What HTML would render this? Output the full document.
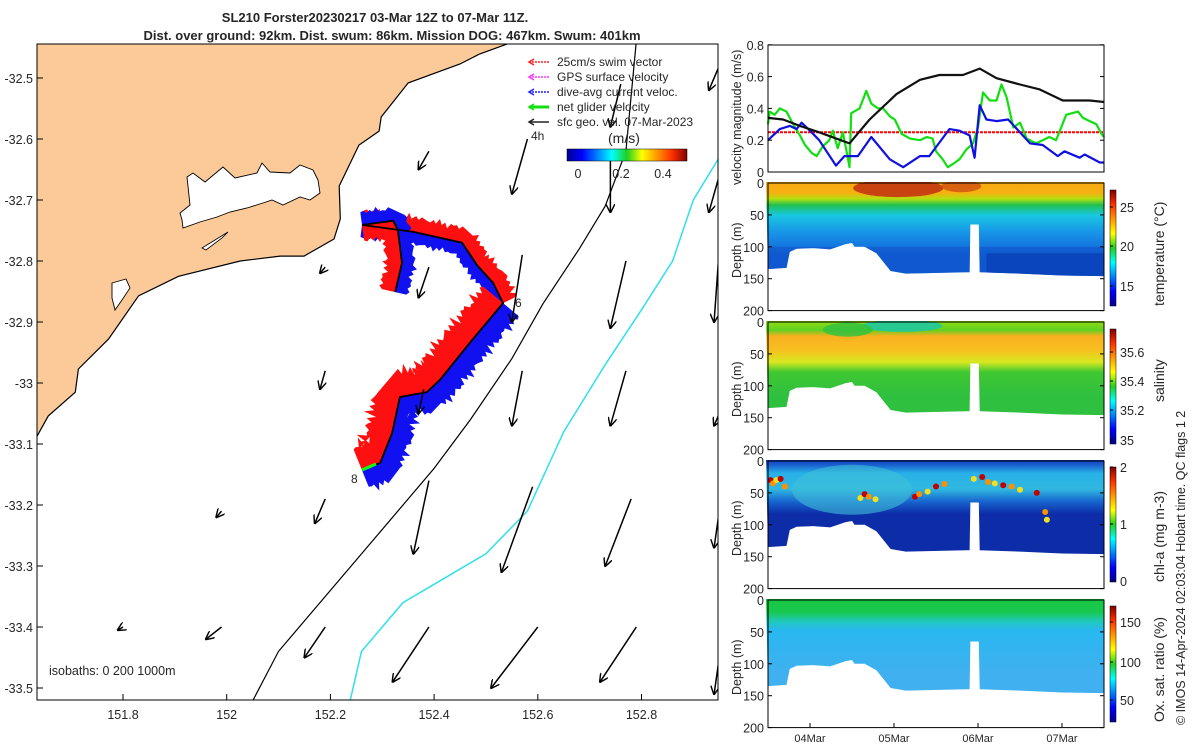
<!DOCTYPE html>
<html><head><meta charset="utf-8"><style>
html,body{margin:0;padding:0;background:#fff}
svg{display:block;font-family:"Liberation Sans","DejaVu Sans",sans-serif}
text{fill:#262626}
</style></head><body>
<svg id="fig" width="1200" height="750" viewBox="0 0 1200 750" xmlns="http://www.w3.org/2000/svg">
<defs>
<linearGradient id="jetV" x1="0" y1="1" x2="0" y2="0">
<stop offset="0" stop-color="#00008f"/><stop offset="0.125" stop-color="#0000ff"/><stop offset="0.375" stop-color="#00ffff"/><stop offset="0.5" stop-color="#20d020"/><stop offset="0.625" stop-color="#ffff00"/><stop offset="0.875" stop-color="#ff3000"/><stop offset="1" stop-color="#800000"/></linearGradient>
<linearGradient id="jetH" x1="0" y1="0" x2="1" y2="0">
<stop offset="0" stop-color="#00008f"/><stop offset="0.125" stop-color="#0000ff"/><stop offset="0.375" stop-color="#00ffff"/><stop offset="0.5" stop-color="#20d020"/><stop offset="0.625" stop-color="#ffff00"/><stop offset="0.875" stop-color="#ff3000"/><stop offset="1" stop-color="#800000"/></linearGradient>
<linearGradient id="gT" x1="0" y1="0" x2="0" y2="1">
<stop offset="0" stop-color="#f8a810"/><stop offset="0.12" stop-color="#f6b010"/><stop offset="0.18" stop-color="#b0e010"/><stop offset="0.24" stop-color="#20c050"/><stop offset="0.34" stop-color="#18c8e0"/><stop offset="0.5" stop-color="#1898e8"/><stop offset="0.75" stop-color="#1060d8"/></linearGradient>
<linearGradient id="gS" x1="0" y1="0" x2="0" y2="1">
<stop offset="0" stop-color="#98e010"/><stop offset="0.1" stop-color="#60d020"/><stop offset="0.16" stop-color="#f8b020"/><stop offset="0.3" stop-color="#f8c020"/><stop offset="0.42" stop-color="#d8e820"/><stop offset="0.52" stop-color="#40c830"/><stop offset="0.75" stop-color="#30c040"/></linearGradient>
<linearGradient id="gC" x1="0" y1="0" x2="0" y2="1">
<stop offset="0" stop-color="#1030b8"/><stop offset="0.06" stop-color="#1a60d0"/><stop offset="0.14" stop-color="#28b0e8"/><stop offset="0.3" stop-color="#30b8e0"/><stop offset="0.42" stop-color="#1868d0"/><stop offset="0.55" stop-color="#0c2ca8"/><stop offset="1" stop-color="#0c2ca8"/></linearGradient>
<linearGradient id="gO" x1="0" y1="0" x2="0" y2="1">
<stop offset="0" stop-color="#18c840"/><stop offset="0.14" stop-color="#18c850"/><stop offset="0.24" stop-color="#20c8c0"/><stop offset="0.32" stop-color="#28b8f0"/><stop offset="0.75" stop-color="#40b0f0"/></linearGradient>
<marker id="ah" viewBox="0 0 10 10" refX="9" refY="5" markerWidth="9" markerHeight="9" orient="auto" markerUnits="userSpaceOnUse"><path d="M0,0 L10,5 L0,10" fill="none" stroke="#000" stroke-width="1.6"/></marker>
<clipPath id="mapclip"><rect x="37" y="44" width="681" height="656"/></clipPath>
</defs>

<text x="375" y="22" font-size="13" font-weight="bold" text-anchor="middle">SL210 Forster20230217 03-Mar 12Z to 07-Mar 11Z.</text>
<text x="392" y="40" font-size="13" font-weight="bold" text-anchor="middle">Dist. over ground: 92km. Dist. swum: 86km. Mission DOG: 467km. Swum: 401km</text>

<g id="map"></g>
<g id="vel"></g>
<g id="sections"></g>

<text transform="translate(1185,725) rotate(-90)" font-size="12.5">© IMOS 14-Apr-2024 02:03:04 Hobart time. QC flags 1  2</text>
</svg>
<script>
const NS="http://www.w3.org/2000/svg";
function mk(tag,attrs,parent){const e=document.createElementNS(NS,tag);for(const k in attrs)e.setAttribute(k,attrs[k]);(parent||document.getElementById('fig')).appendChild(e);return e;}
function txt(s,attrs,parent){const e=mk('text',attrs,parent);e.textContent=s;return e;}

/* ---------- MAP DATA ---------- */
const lonTicks=[151.8,152,152.2,152.4,152.6,152.8];
const latTicks=[-32.5,-32.6,-32.7,-32.8,-32.9,-33,-33.1,-33.2,-33.3,-33.4,-33.5];
const coastLon=[152.545,152.487,152.450,152.350,152.298,152.294,152.255,152.217,152.219,152.207,152.149,152.103,152.026,151.907,151.830,151.772,151.714,151.708,151.656,151.631,151.617,151.611];
const coastLat=[-32.443,-32.461,-32.477,-32.508,-32.564,-32.587,-32.610,-32.677,-32.731,-32.764,-32.792,-32.792,-32.800,-32.825,-32.857,-32.928,-32.977,-33.015,-33.054,-33.092,-33.169,-33.190];
const iso200Lon=[152.79,152.77,152.73,152.68,152.61,152.55,152.47,152.40,152.29,152.18,152.10,152.02];
const iso200Lat=[-32.44,-32.62,-32.71,-32.78,-32.87,-32.96,-33.06,-33.14,-33.25,-33.36,-33.44,-33.57];
const iso1000Lon=[152.95,152.90,152.86,152.80,152.73,152.65,152.58,152.50,152.42,152.34,152.26,152.23];
const iso1000Lat=[-32.63,-32.70,-32.80,-32.88,-32.97,-33.08,-33.21,-33.28,-33.32,-33.36,-33.44,-33.55];
const trackLon=[152.261,152.359,152.454,152.483,152.514,152.533,152.469,152.411,152.386,152.334,152.319,152.296,152.261];
const trackLat=[-32.741,-32.752,-32.770,-32.807,-32.836,-32.869,-32.934,-32.995,-33.015,-33.023,-33.082,-33.131,-33.143];
const armLon=[152.261,152.321,152.330,152.338,152.325];
const armLat=[-32.741,-32.734,-32.749,-32.803,-32.851];
const arrowLon0=[152.39,152.58,152.76,152.74,152.95,152.95,152.19,152.39,152.57,152.77,152.95,152.19,152.38,152.57,152.77,152.95,151.99,152.19,152.39,152.59,152.78,152.95,151.80,151.99,152.19,152.39,152.60,152.79,152.95];
const arrowLat0=[-32.62,-32.60,-32.51,-32.62,-32.48,-32.66,-32.81,-32.81,-32.79,-32.80,-32.78,-32.98,-33.01,-32.98,-32.98,-33.05,-33.21,-33.19,-33.16,-33.17,-33.19,-33.21,-33.40,-33.40,-33.40,-33.40,-33.40,-33.40,-33.45];
const arrowLon1=[152.37,152.55,152.74,152.74,152.93,152.93,152.18,152.37,152.55,152.74,152.94,152.18,152.37,152.55,152.74,152.94,151.98,152.17,152.36,152.53,152.73,152.94,151.79,151.96,152.15,152.32,152.51,152.72,152.94];
const arrowLat1=[-32.65,-32.69,-32.58,-32.72,-32.52,-32.72,-32.82,-32.86,-32.90,-32.91,-32.90,-33.01,-33.05,-33.07,-33.07,-33.07,-33.22,-33.23,-33.28,-33.31,-33.30,-33.27,-33.405,-33.42,-33.45,-33.49,-33.50,-33.49,-33.51];

const mx=lon=>123+(lon-151.8)*518.5;
const my=lat=>78+(-32.5-lat)*610;
const map=document.getElementById('map');
mk('rect',{x:37,y:44,width:681,height:656,fill:'#fff'},map);
const gm=mk('g',{'clip-path':'url(#mapclip)'},map);
let cp='M37,40 L'+mx(coastLon[0]).toFixed(1)+',40 ';coastLon.forEach((l,i)=>cp+='L'+mx(l).toFixed(1)+','+my(coastLat[i]).toFixed(1)+' ');cp+='L30,520 L30,40 Z';
const land=mk('path',{d:cp,fill:'#fbca98',stroke:'#000','stroke-width':1.2},gm);

mk('polygon',{points:'187,177 193,173 205,182 223,167 235,178 257,173 262,163 270,172 290,173 300,165 313,170 318,180 320,193 310,200 300,197 283,205 272,200 263,203 247,208 230,212 217,217 200,222 183,228 182,220 180,213 190,205',fill:'#fff',stroke:'#000','stroke-width':0.9},gm);
mk('polygon',{points:'112,283 126,279 130,288 122,300 115,310 112,298',fill:'#fff',stroke:'#000','stroke-width':0.9},gm);
mk('polygon',{points:'202,248 215,240 228,232 222,238 206,250',fill:'#fff',stroke:'#000','stroke-width':0.8},gm);
function pline(lons,lats){return lons.map((l,i)=>mx(l).toFixed(1)+','+my(lats[i]).toFixed(1)).join(' ');}
const i2=mk('polyline',{points:pline(iso200Lon,iso200Lat),fill:'none',stroke:'#000','stroke-width':1.2},gm);

const i1=mk('polyline',{points:pline(iso1000Lon,iso1000Lat),fill:'none',stroke:'#30e0e8','stroke-width':1.5},gm);

const T=trackLon.map((l,i)=>[mx(l),my(trackLat[i])]);
const A=armLon.map((l,i)=>[mx(l),my(armLat[i])]);
function band(pts,w,side){
  let sub=[];for(let i=0;i<pts.length-1;i++){const p=pts[i],q=pts[i+1];const n=Math.max(2,Math.round(Math.hypot(q[0]-p[0],q[1]-p[1])/3));for(let j=0;j<n;j++){sub.push([p[0]+(q[0]-p[0])*j/n,p[1]+(q[1]-p[1])*j/n,q[0]-p[0],q[1]-p[1]]);}}
  const l=pts[pts.length-1],pl=pts[pts.length-2];sub.push([l[0],l[1],l[0]-pl[0],l[1]-pl[1]]);
  const out=[];sub.forEach((s,i)=>{const L=Math.hypot(s[2],s[3])||1;const nx=s[3]/L*side,ny=-s[2]/L*side;const ww=w*(i%2?1:0.8)*(i%5==0?1.15:(i%7==0?0.85:1));out.push([s[0]+nx*ww,s[1]+ny*ww]);});
  return sub.map(s=>[s[0],s[1]]).concat(out.reverse()).map(p=>p[0].toFixed(1)+','+p[1].toFixed(1)).join(' ');}
const up=T.slice(0,6),lo=T.slice(5);
[[up,16,1,'#ff1010'],[up,13,-1,'#1010f0'],[lo,28,-1,'#ff1010'],[lo,22,1,'#1010f0'],[A,17,-1,'#ff1010'],[A,14,1,'#1010f0']].forEach(b=>{
 const p=mk('polygon',{points:band(b[0],b[1],b[2]),fill:b[3]},gm);
 });
const arm=mk('polyline',{points:A.map(p=>p.join(',')).join(' '),fill:'none',stroke:'#000','stroke-width':1.8},gm);

const tr=mk('polyline',{points:T.map(p=>p.join(',')).join(' '),fill:'none',stroke:'#000','stroke-width':1.8},gm);

mk('line',{x1:362,y1:470,x2:376,y2:464,stroke:'#10ff10','stroke-width':3},gm);
txt('8',{x:351,y:483,'font-size':12},gm);txt('6',{x:515,y:307,'font-size':12},gm);
arrowLon0.forEach((l,i)=>{const a=mk('line',{x1:mx(l),y1:my(arrowLat0[i]),x2:mx(arrowLon1[i]),y2:my(arrowLat1[i]),stroke:'#000','stroke-width':1.5,'marker-end':'url(#ah)'},gm);
});
mk('rect',{x:37,y:44,width:681,height:656,fill:'none',stroke:'#000','stroke-width':1},map);
lonTicks.forEach(l=>{const x=mx(l);mk('line',{x1:x,y1:700,x2:x,y2:694,stroke:'#000'},map);txt(String(l),{x:x,y:719,'font-size':12.5,'text-anchor':'middle'},map);});
latTicks.forEach(l=>{const y=my(l);mk('line',{x1:37,y1:y,x2:43,y2:y,stroke:'#000'},map);txt(String(l),{x:33,y:y+5,'font-size':12.5,'text-anchor':'end'},map);});
txt('isobaths: 0   200   1000m',{x:49,y:675,'font-size':12.5,'xml:space':'preserve'},map);
const lg=mk('g',{},map);
[['#ff2020','25cm/s swim vector'],['#ff30ff','GPS surface velocity'],['#2020ff','dive-avg current veloc.'],['#10e010','net glider velocity'],['#222','sfc geo. vel. 07-Mar-2023']].forEach((e,i)=>{const y=62+i*15;
mk('line',{x1:529,y1:y,x2:549,y2:y,stroke:e[0],'stroke-width':i==3?3:1.5,'stroke-dasharray':i<3?'2,1':''},lg);
mk('path',{d:`M534,${y-3} L529,${y} L534,${y+3}`,fill:'none',stroke:e[0],'stroke-width':1.5},lg);
txt(e[1],{x:557,y:y+4,'font-size':12},lg);});
txt('4h',{x:531,y:140,'font-size':12},map);
txt('(m/s)',{x:608,y:143,'font-size':14},map);
mk('rect',{x:567,y:149,width:120,height:12,fill:'url(#jetH)',stroke:'#000','stroke-width':0.5},map);
[['0',578],['0.2',621],['0.4',663]].forEach(t=>txt(t[0],{x:t[1],y:178,'font-size':12.5,'text-anchor':'middle'},map));

/* ---------- VELOCITY DATA ---------- */
const velTicks=[0,0.2,0.4,0.6,0.8];
const blackT=[0,.18,.38,.61,.97,1.21,1.53,1.81,2.04,2.32,2.52,2.72,3.0,3.23,3.51,3.83,4];
const blackV=[.34,.33,.29,.25,.18,.33,.49,.58,.61,.61,.65,.59,.55,.52,.45,.45,.44];
const blueT=[0,.14,.26,.34,.4,.5,.61,.81,.91,1.07,1.23,1.45,1.61,1.81,1.92,2.16,2.28,2.4,2.46,2.52,2.6,2.72,2.86,3.12,3.27,3.45,3.53,3.71,3.77,3.95,4];
const blueV=[.2,.27,.29,.27,.31,.26,.2,.04,.1,.1,.22,.08,.03,.1,.1,.27,.26,.23,.09,.42,.33,.32,.33,.18,.17,.1,.13,.09,.11,.06,.06];
const greenT=[0,.02,.08,.14,.22,.3,.38,.44,.52,.58,.65,.73,.77,.83,.89,.95,.97,.99,1.09,1.17,1.23,1.31,1.37,1.45,1.51,1.59,1.69,1.81,1.89,1.96,2.0,2.08,2.14,2.2,2.28,2.36,2.44,2.5,2.56,2.64,2.72,2.78,2.84,2.92,3.0,3.08,3.19,3.27,3.35,3.43,3.55,3.69,3.75,3.83,3.91,3.97,4];
const greenV=[.3,.38,.36,.4,.38,.3,.23,.17,.12,.1,.16,.2,.26,.15,.25,.09,.03,.37,.4,.51,.43,.4,.4,.35,.33,.24,.21,.2,.22,.21,.13,.08,.03,.05,.08,.14,.18,.28,.5,.45,.45,.55,.47,.28,.31,.21,.18,.2,.22,.2,.36,.38,.34,.32,.3,.24,.22];
const swimRef=[0.25];
const vx=t=>768+t*84, vy=v=>172-v*159;
const vel=document.getElementById('vel');
mk('rect',{x:768,y:45,width:336,height:127,fill:'#fff'},vel);
function series(ts,vs,col,w,name){const p=mk('polyline',{points:ts.map((t,i)=>vx(t).toFixed(1)+','+vy(vs[i]).toFixed(1)).join(' '),fill:'none',stroke:col,'stroke-width':w,'stroke-linejoin':'round'},vel);
}
const sw=mk('line',{x1:768,x2:1104,y1:vy(swimRef[0]),y2:vy(swimRef[0]),stroke:'#ff0000','stroke-width':2,'stroke-dasharray':'3,1'},vel);

series(greenT,greenV,'#10e010',2.2,'net-glider-velocity-line');
series(blueT,blueV,'#1010e0',2.2,'current-velocity-line');
series(blackT,blackV,'#111',2.2,'geo-velocity-line');
mk('rect',{x:768,y:45,width:336,height:127,fill:'none',stroke:'#000'},vel);
velTicks.forEach(v=>{const y=vy(v);mk('line',{x1:768,x2:772,y1:y,y2:y,stroke:'#000'},vel);mk('line',{x1:1100,x2:1104,y1:y,y2:y,stroke:'#000'},vel);txt(String(v),{x:764,y:y+5,'font-size':12.5,'text-anchor':'end'},vel);});
txt('velocity magnitude (m/s)',{transform:'translate(741,185) rotate(-90)','font-size':12.5},vel);

/* ---------- SECTIONS ---------- */
const depthTicks=[0,50,100,150,200];
const dayTicks=['04Mar','05Mar','06Mar','07Mar'];
const dayPos=[0.5,1.5,2.5,3.5];
const bottomT=[0,.22,.26,.34,.54,.74,.92,1.0,1.03,1.15,1.29,1.46,1.64,2.36,2.40,2.41,2.51,2.52,3.0,3.5,4];
const bottomD=[135,133,108,103,102,104,96,94,100,100,110,138,142,140,140,65,65,140,142,145,146];
const tempTicks=[25,20,15];const tempTickY=[207,246,286];
const salTicks=[35.6,35.4,35.2,35];const salTickY=[352,381,410,440];
const chlTicks=[2,1,0];const chlTickY=[467,524,581];
const oxTicks=[150,100,50];const oxTickY=[622,662,700];
const chlHotT=[0.03,0.06,0.1,0.15,0.2,1.1,1.15,1.2,1.28,1.75,1.8,1.9,2.0,2.1,2.45,2.55,2.62,2.7,2.8,2.9,3.0,3.2,3.3,3.32];
const chlHotD=[30,35,30,28,40,58,52,56,60,56,52,48,40,36,28,25,33,35,38,40,45,50,80,92];
const sec=document.getElementById('sections');
const panels=[
 {y0:183,grad:'gT',label:'temperature (°C)',ticks:tempTicks,ty:tempTickY,cb:[190,306],name:'temperature'},
 {y0:322,grad:'gS',label:'salinity',ticks:salTicks,ty:salTickY,cb:[329,444],name:'salinity'},
 {y0:461,grad:'gC',label:'chl-a (mg m-3)',ticks:chlTicks,ty:chlTickY,cb:[467,582],name:'chlorophyll'},
 {y0:600,grad:'gO',label:'Ox. sat. ratio (%)',ticks:oxTicks,ty:oxTickY,cb:[606,722],name:'oxygen'}];
panels.forEach((P,k)=>{
 const g=mk('g',{},sec);
 const dy=d=>P.y0+d*0.638;
 const id='clip'+k;const cpth=mk('clipPath',{id:id},g);
 let d='M766,'+(P.y0-1)+' ';bottomT.forEach((t,i)=>d+='L'+vx(t).toFixed(1)+','+dy(bottomD[i]).toFixed(1)+' ');d+='L1104,'+(P.y0-1)+' Z';
 mk('path',{d:d},cpth);
 const cg=mk('g',{'clip-path':'url(#'+id+')'},g);
 mk('rect',{x:766,y:P.y0-2,width:338,height:100,fill:'url(#'+P.grad+')'},cg);
 if(k==0){mk('ellipse',{cx:vx(1.55),cy:dy(8),rx:45,ry:9,fill:'#c03010',opacity:0.85},cg);mk('ellipse',{cx:vx(2.3),cy:dy(5),rx:20,ry:6,fill:'#d05010',opacity:0.8},cg);
  mk('rect',{x:vx(0),y:dy(100),width:336,height:40,fill:'#1050c8',opacity:0.5},cg);mk('rect',{x:vx(2.6),y:dy(110),width:180,height:40,fill:'#0838b0',opacity:0.6},cg);}
 if(k==1){mk('ellipse',{cx:vx(1.6),cy:dy(6),rx:40,ry:6,fill:'#20c8a0',opacity:0.9},cg);mk('ellipse',{cx:vx(0.95),cy:dy(12),rx:25,ry:7,fill:'#30c040',opacity:0.8},cg);}
 if(k==2){mk('ellipse',{cx:vx(1.0),cy:dy(45),rx:60,ry:25,fill:'#40c0d8',opacity:0.6},cg);
  chlHotT.forEach((t,i)=>{const c=mk('circle',{cx:vx(t),cy:dy(chlHotD[i]),r:3,fill:i%3==0?'#c00000':(i%3==1?'#ff9000':'#f0e020')},cg);});}
 mk('rect',{x:768,y:P.y0,width:336,height:127.6,fill:'none',stroke:'#000'},g);
 depthTicks.forEach(v=>{const y=dy(v);mk('line',{x1:768,x2:772,y1:y,y2:y,stroke:'#000'},g);mk('line',{x1:1100,x2:1104,y1:y,y2:y,stroke:'#000'},g);txt(String(v),{x:764,y:y+5,'font-size':12.5,'text-anchor':'end'},g);});
 txt('Depth (m)',{transform:`translate(741,${P.y0+95}) rotate(-90)`,'font-size':12.5},g);
 mk('rect',{x:1110,y:P.cb[0],width:6,height:P.cb[1]-P.cb[0],fill:'url(#jetV)',stroke:'#000','stroke-width':0.5},g);
 P.ticks.forEach((t,i)=>{mk('line',{x1:1110,x2:1113,y1:P.ty[i],y2:P.ty[i],stroke:'#000'},g);txt(String(t),{x:1120,y:P.ty[i]+5,'font-size':12.5},g);});
 txt(P.label,{transform:`translate(1164,${P.cb[1]+(k==1?-42:0)}) rotate(-90)`,'font-size':14},g);
});
dayTicks.forEach((s,i)=>{const x=vx(dayPos[i]);mk('line',{x1:x,x2:x,y1:727,y2:723,stroke:'#000'},sec);txt(s,{x:x,y:742,'font-size':11,'text-anchor':'middle'},sec);});
</script>
</body></html>
